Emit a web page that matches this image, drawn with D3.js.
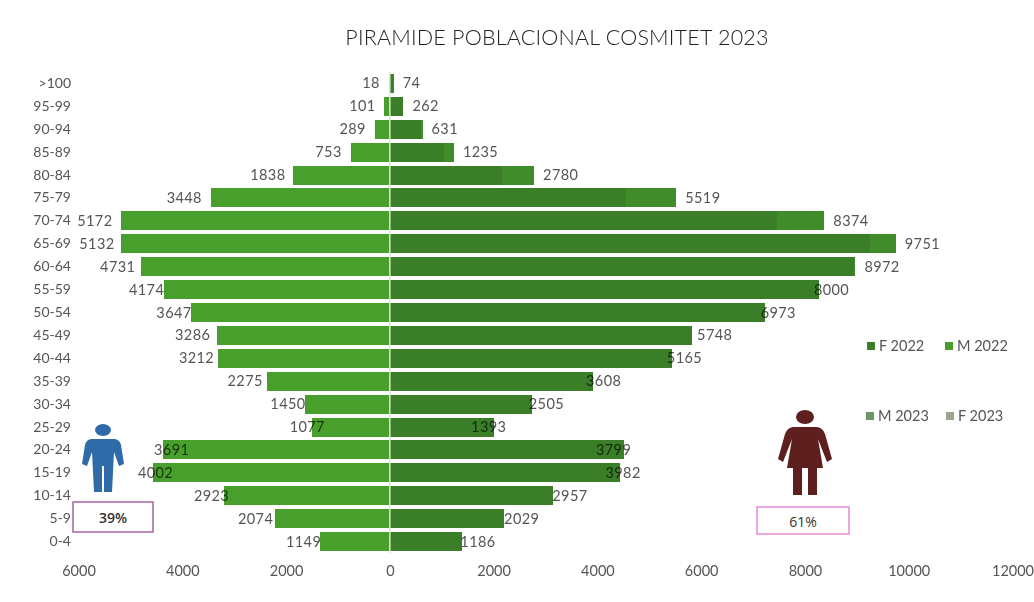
<!DOCTYPE html>
<html>
<head>
<meta charset="utf-8">
<script src="https://cdn.jsdelivr.net/npm/d3@7"></script>
<style>
  html, body { margin: 0; padding: 0; background: #fff; }
  text { font-family: "Lato", "Open Sans", sans-serif; fill: #555; }
</style>
</head>
<body>
<div id="chart"></div>
<script>
var ages = [">100","95-99","90-94","85-89","80-84","75-79","70-74","65-69","60-64","55-59","50-54","45-49","40-44","35-39","30-34","25-29","20-24","15-19","10-14","5-9","0-4"];
var male2023 = [18,101,289,753,1838,3448,5172,5132,4731,4174,3647,3286,3212,2275,1450,1077,3691,4002,2923,2074,1149];
var female2023 = [74,262,631,1235,2780,5519,8374,9751,8972,8000,6973,5748,5165,3608,2505,1393,3799,3982,2957,2029,1186];
// 2022 has no labels in the picture, read from the bar ends
var male2022 = [18,116,289,752,1870,3452,5169,5188,4802,4358,3838,3336,3317,2372,1640,1504,4378,4570,3200,2218,1350];
var female2022 = [60,250,600,1040,2160,4560,7464,9257,8949,8274,7232,5824,5439,3915,2739,2006,4513,4436,3144,2199,1389];
var xTicks = [-6000,-4000,-2000,0,2000,4000,6000,8000,10000,12000];

var W = 1034, H = 602;
var svg = d3.select("#chart").append("svg").attr("width", W).attr("height", H).style("display","block");

var x = d3.scaleLinear().domain([-6000,12000]).range([78.5,1012.5]);
var y = d3.scaleBand().domain(ages).range([72,553]).paddingInner(0.17).paddingOuter(0.085);
var x0 = x(0);

svg.append("text").attr("x",557).attr("y",45).attr("text-anchor","middle")
  .style("font-size","21.5px").style("font-weight","300").style("fill","#222").style("letter-spacing","0.2px")
  .text("PIRAMIDE POBLACIONAL COSMITET 2023");

function bars(cls, values, sign, color){
  svg.selectAll("rect."+cls).data(ages).enter().append("rect").attr("class",cls)
    .attr("x", function(d,i){ return sign < 0 ? x(-values[i]) : x0; })
    .attr("y", function(d){ return y(d); })
    .attr("width", function(d,i){ return Math.abs(x(sign*values[i]) - x0); })
    .attr("height", y.bandwidth())
    .attr("fill", color)
    .attr("shape-rendering","crispEdges");
}
bars("m23", male2023, -1, "#489f2c");
bars("m22", male2022, -1, "#489f2c");
bars("f23", female2023, 1, "#408c2b");
bars("f22", female2022, 1, "#3a7f27");

// centre line
svg.append("line").attr("x1",x0).attr("x2",x0).attr("y1",72).attr("y2",553)
  .attr("stroke","#d8ecc8").attr("stroke-width",1.5);

// value labels sit on the 2023 values, so some run over the 2022 bars
svg.selectAll("text.ml").data(ages).enter().append("text").attr("class","ml")
  .attr("x", function(d,i){ return x(-male2023[i]) - 9; })
  .attr("y", function(d){ return y(d) + y.bandwidth()/2 + 5; })
  .attr("text-anchor","end").style("font-size","14.5px").style("letter-spacing","0.4px")
  .style("fill","#555").style("mix-blend-mode","multiply")
  .text(function(d,i){ return male2023[i]; });
svg.selectAll("text.fl").data(ages).enter().append("text").attr("class","fl")
  .attr("x", function(d,i){ return x(female2023[i]) + 9; })
  .attr("y", function(d){ return y(d) + y.bandwidth()/2 + 5; })
  .style("font-size","14.5px").style("letter-spacing","0.4px")
  .style("fill","#555").style("mix-blend-mode","multiply")
  .text(function(d,i){ return female2023[i]; });

// axes
var yAxis = svg.append("g").attr("transform","translate(71,0)").call(d3.axisLeft(y).tickSize(0).tickPadding(0));
yAxis.select(".domain").remove();
yAxis.selectAll("text").style("font-size","14px").style("font-family","Lato").style("fill","#555");

var xAxis = svg.append("g").attr("transform","translate(0,562)")
  .call(d3.axisBottom(x).tickValues(xTicks).tickSize(0).tickPadding(4).tickFormat(function(d){ return Math.abs(d); }));
xAxis.select(".domain").remove();
xAxis.selectAll("text").style("font-size","14.5px").style("font-family","Lato").style("fill","#555");

// legend
var legend = [["F 2022",867,346,"#3a7f27"],["M 2022",945,346,"#489f2c"],["M 2023",866,416,"#6f9468"],["F 2023",946,416,"#9aa590"]];
legend.forEach(function(l){
  svg.append("rect").attr("x",l[1]).attr("y",l[2]-4).attr("width",8).attr("height",8).attr("fill",l[3]);
  svg.append("text").attr("x",l[1]+12).attr("y",l[2]+5).style("font-size","14.5px").text(l[0]);
});

// person icons
function person(g, color, body, rx, ry){
  g.append("ellipse").attr("cx",0).attr("cy",-30).attr("rx",rx).attr("ry",ry).attr("fill",color);
  g.append("path").attr("fill",color).attr("d",body);
}
person(svg.append("g").attr("transform","translate(103,460)"), "#2f6ba8",
  "M-12,-21 L12,-21 Q17,-20 18,-15 L21,4 L16,6 L11,-8 L9,32 L1,32 L1,6 L-1,6 L-1,32 L-9,32 L-11,-8 L-16,6 L-21,4 L-18,-15 Q-17,-20 -12,-21 Z", 8, 6);
person(svg.append("g").attr("transform","translate(805,447)"), "#5e1f1f",
  "M-12,-20 L12,-20 Q18,-19 20,-13 L27,12 L22,15 L13,-8 L18,21 L12,21 L12,48 L3,48 L3,21 L-3,21 L-3,48 L-12,48 L-12,21 L-18,21 L-13,-8 L-22,15 L-27,12 L-20,-13 Q-18,-19 -12,-20 Z", 9, 7);

// percentage boxes
svg.append("rect").attr("x",73).attr("y",502).attr("width",80).attr("height",30).attr("fill","#fff").attr("stroke","#a8639e").attr("stroke-width",1.5);
svg.append("text").attr("x",113).attr("y",523).attr("text-anchor","middle").style("font-size","14px").style("font-family","Open Sans").style("font-weight","600").style("fill","#333").text("39%");
svg.append("rect").attr("x",757).attr("y",507).attr("width",92).attr("height",27).attr("fill","#fff").attr("stroke","#e58ad8").attr("stroke-width",1.5);
svg.append("text").attr("x",803).attr("y",527).attr("text-anchor","middle").style("font-size","14px").style("font-family","Open Sans").style("fill","#333").text("61%");
</script>
</body>
</html>
